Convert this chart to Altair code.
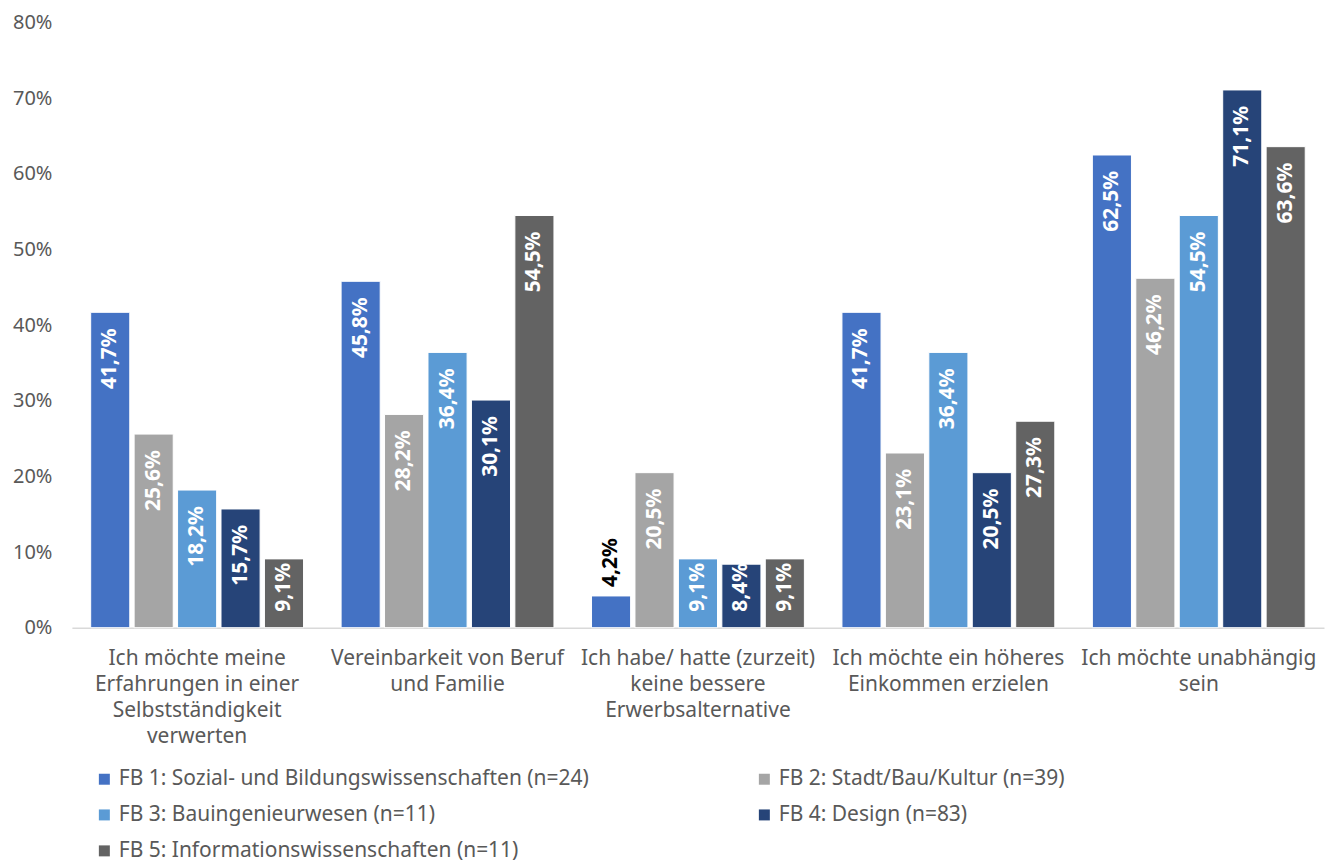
import altair as alt
import pandas as pd

categories = [
    "Ich möchte meine\nErfahrungen in einer\nSelbstständigkeit\nverwerten",
    "Vereinbarkeit von Beruf\nund Familie",
    "Ich habe/ hatte (zurzeit)\nkeine bessere\nErwerbsalternative",
    "Ich möchte ein höheres\nEinkommen erzielen",
    "Ich möchte unabhängig\nsein",
]
series = [
    "FB 1: Sozial- und Bildungswissenschaften (n=24)",
    "FB 2: Stadt/Bau/Kultur (n=39)",
    "FB 3: Bauingenieurwesen (n=11)",
    "FB 4: Design (n=83)",
    "FB 5: Informationswissenschaften (n=11)",
]
colors = ["#4472C4", "#A5A5A5", "#5B9BD5", "#264478", "#636363"]

fb1 = [41.7, 45.8, 4.2, 41.7, 62.5]
fb2 = [25.6, 28.2, 20.5, 23.1, 46.2]
fb3 = [18.2, 36.4, 9.1, 36.4, 54.5]
fb4 = [15.7, 30.1, 8.4, 20.5, 71.1]
fb5 = [9.1, 54.5, 9.1, 27.3, 63.6]

rows = []
for s, vals in zip(series, [fb1, fb2, fb3, fb4, fb5]):
    for c, v in zip(categories, vals):
        rows.append({"cat": c, "series": s, "value": v})
df = pd.DataFrame(rows)

# legend is filled column-major: reorder so it reads row by row like the reference
legend_order = [series[0], series[2], series[4], series[1], series[3]]
legend_colors = [colors[0], colors[2], colors[4], colors[1], colors[3]]

FONT = "Noto Sans"
TXT = "#595959"

x_enc = alt.X(
    "cat:N",
    sort=categories,
    scale=alt.Scale(paddingInner=0.15, paddingOuter=0.075),
    axis=alt.Axis(
        title=None,
        labelAngle=0,
        labelExpr="split(datum.label, '\\n')",
        labelFontSize=21,
        labelColor=TXT,
        labelFont=FONT,
        labelLineHeight=26,
        labelPadding=20,
        labelBaseline="top",
        ticks=False,
        tickSize=0,
        domainColor="#D9D9D9",
        domainWidth=1.5,
        labelLimit=400,
    ),
)
xoff = alt.XOffset("series:N", sort=series, scale=alt.Scale(paddingInner=0.1))
y_scale = alt.Scale(domain=[0, 80])
y_enc = alt.Y(
    "value:Q",
    scale=y_scale,
    axis=alt.Axis(
        title=None,
        values=[0, 10, 20, 30, 40, 50, 60, 70, 80],
        labelExpr="datum.value + '%'",
        labelFontSize=20,
        labelColor=TXT,
        labelFont=FONT,
        labelPadding=20,
        ticks=False,
        tickSize=0,
        domain=False,
        grid=False,
    ),
)

base = alt.Chart(df).transform_calculate(
    lbl="replace(format(datum.value, '.1f'), '.', ',') + '%'"
)

bars = base.mark_bar(stroke="white", strokeWidth=1).encode(
    x=x_enc,
    xOffset=xoff,
    y=y_enc,
    color=alt.Color(
        "series:N",
        scale=alt.Scale(domain=legend_order, range=legend_colors),
        legend=alt.Legend(
            title=None,
            orient="none",
            legendX=22,
            legendY=747,
            columns=2,
            columnPadding=165,
            rowPadding=14,
            symbolType="square",
            symbolSize=121,
            symbolStrokeWidth=0,
            labelFontSize=21,
            labelColor=TXT,
            labelFont=FONT,
            labelLimit=600,
            padding=0,
        ),
    ),
)

txt_style = dict(angle=270, baseline="middle", font=FONT, fontSize=21, fontWeight="bold")

# tall bars: label at the inside end
inside_top = base.transform_filter("datum.value >= 12").mark_text(
    align="right", dx=-16, color="white", **txt_style
).encode(x=x_enc, xOffset=xoff, y=y_enc, text="lbl:N")

# short bars: label pushed down to fit inside the bar
inside_low = base.transform_filter("datum.value >= 5 && datum.value < 12").mark_text(
    align="left", dx=16, color="white", **txt_style
).encode(x=x_enc, xOffset=xoff, y=alt.datum(0, scale=y_scale), text="lbl:N")

# very short bar: label above the bar
outside = base.transform_filter("datum.value < 5").mark_text(
    align="left", dx=9, color="black", **txt_style
).encode(x=x_enc, xOffset=xoff, y=y_enc, text="lbl:N")

chart = alt.layer(bars, inside_top, inside_low, outside).properties(
    width=1254,
    height=606,
    autosize=alt.AutoSizeParams(type="none"),
    padding={"left": 64, "top": 14, "right": 4, "bottom": 240},
).configure_view(stroke=None)

chart.save("out.html", embed_options={"renderer": "svg", "actions": False})
